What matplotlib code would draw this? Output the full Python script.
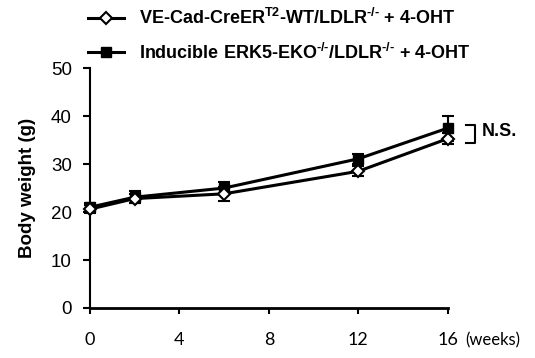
import matplotlib
matplotlib.use("Agg")
import matplotlib.pyplot as plt

plt.rcParams['font.family'] = ['Liberation Sans', 'DejaVu Sans']
plt.rcParams['mathtext.fontset'] = 'custom'
plt.rcParams['mathtext.rm'] = 'Liberation Sans:bold'
plt.rcParams['mathtext.bf'] = 'Liberation Sans:bold'

# данные
weeks = [0, 2, 6, 12, 16]
wt_mean = [20.6, 22.8, 23.8, 28.5, 35.3]
wt_err = [0.8, 1.0, 1.4, 1.0, 1.2]
eko_mean = [21.0, 23.1, 25.0, 31.1, 37.5]
eko_err = [0.9, 1.3, 1.2, 1.0, 2.6]
labels = [r'VE-Cad-CreER$^{\text{T2}}$-WT/LDLR$^{\text{-/-}}$ + 4-OHT',
          r'Inducible ERK5-EKO$^{\text{-/-}}$/LDLR$^{\text{-/-}}$ + 4-OHT']
x_ticks = [0, 4, 8, 12, 16]
y_ticks = [0, 10, 20, 30, 40, 50]

fig = plt.figure(figsize=(5.35, 3.58), dpi=100)
ax = fig.add_axes([0.168, 0.1397, 0.669, 0.670])

h1 = ax.errorbar(weeks, wt_mean, yerr=wt_err, color='black', lw=2.2,
                 marker='D', ms=6.5, mfc='white', mec='black', mew=1.5,
                 capsize=4, elinewidth=1.5, capthick=1.5, zorder=4,
                 clip_on=False)
h2 = ax.errorbar(weeks, eko_mean, yerr=eko_err, color='black', lw=2.2,
                 marker='s', ms=7.5, mfc='black', mec='black',
                 capsize=4, elinewidth=1.5, capthick=1.5, zorder=3,
                 clip_on=False)

ax.set_xlim(0, 16)
ax.set_ylim(0, 50)
ax.set_xticks(x_ticks)
ax.set_yticks(y_ticks)
ax.set_xticklabels([str(t) for t in x_ticks], family='Lato', fontsize=13)
ax.set_yticklabels([str(t) for t in y_ticks], family='Liberation Sans', fontsize=13.5)
ax.tick_params(axis='y', width=1.5, length=5, direction='out', pad=8)
ax.tick_params(axis='x', width=1.5, length=4, direction='out', pad=13)
for s in ['top', 'right']:
    ax.spines[s].set_visible(False)
ax.spines['left'].set_linewidth(1.5)
ax.spines['bottom'].set_linewidth(2.0)

ax.set_ylabel('Body weight (g)', fontsize=13.5, fontweight='bold', labelpad=11)
ax.text(16.8, -6.7, '(weeks)', family='Lato', fontsize=12,
        ha='left', va='center', clip_on=False)

# скобка N.S.
y_top = eko_mean[-1] + 0.7
y_bot = wt_mean[-1] - 1.0
ax.plot([16.8, 17.2, 17.2, 16.8], [y_top, y_top, y_bot, y_bot],
        color='black', lw=1.5, clip_on=False)
ax.text(17.5, (y_top + y_bot) / 2 + 0.6, 'N.S.', fontsize=13,
        fontweight='bold', ha='left', va='center')

fig.legend([h1[0], h2[0]], labels, loc='upper left',
           bbox_to_anchor=(88 / 535, 1 - 8 / 358),
           frameon=False, handlelength=2.0, handletextpad=0.85,
           borderpad=0, borderaxespad=0,
           labelspacing=0.8, prop={'weight': 'bold', 'size': 13})

fig.savefig('out.png', dpi=100)
